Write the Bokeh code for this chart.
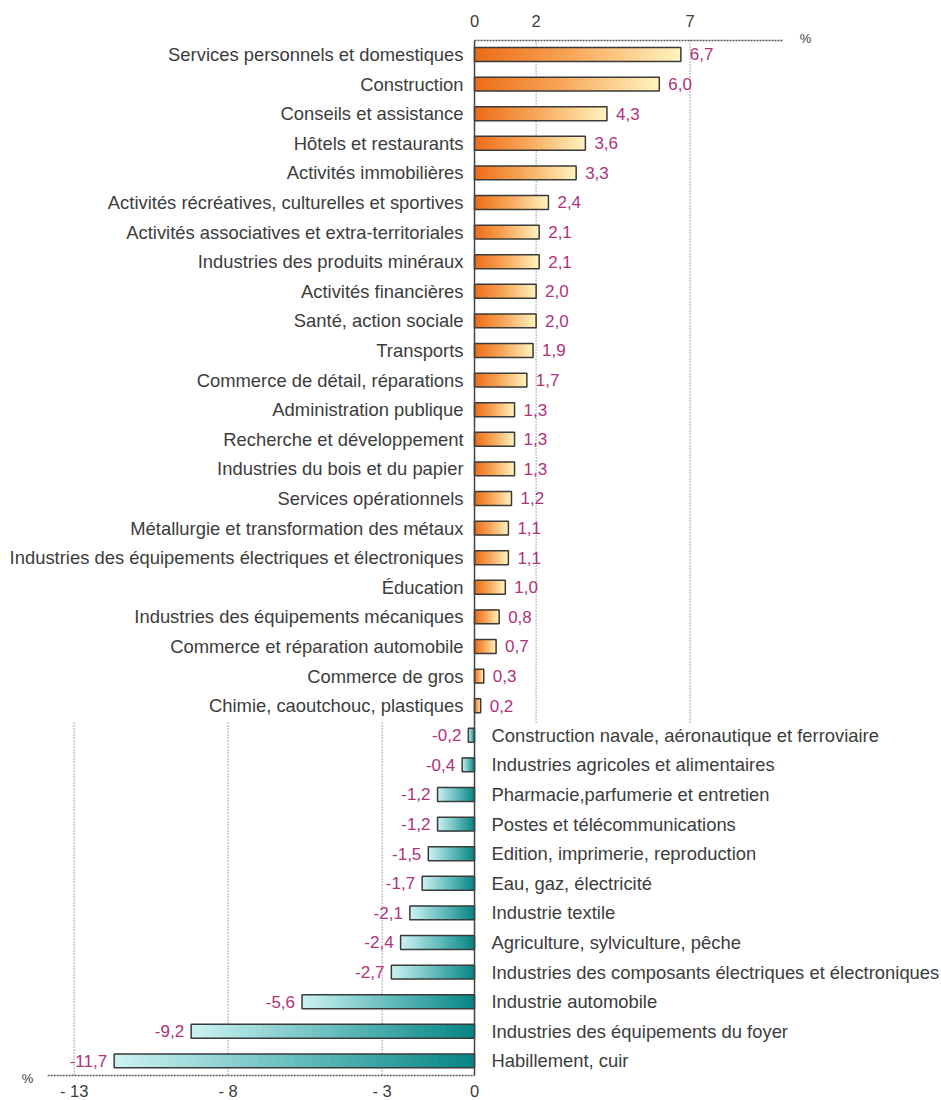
from bokeh.plotting import figure
from bokeh.models import Range1d
from bokeh.core.properties import value
from bokeh.embed import file_html
from bokeh.resources import INLINE

pos_cats = [
    "Services personnels et domestiques", "Construction", "Conseils et assistance",
    "Hôtels et restaurants", "Activités immobilières",
    "Activités récréatives, culturelles et sportives",
    "Activités associatives et extra-territoriales", "Industries des produits minéraux",
    "Activités financières", "Santé, action sociale", "Transports",
    "Commerce de détail, réparations", "Administration publique",
    "Recherche et développement", "Industries du bois et du papier",
    "Services opérationnels", "Métallurgie et transformation des métaux",
    "Industries des équipements électriques et électroniques", "Éducation",
    "Industries des équipements mécaniques", "Commerce et réparation automobile",
    "Commerce de gros", "Chimie, caoutchouc, plastiques",
]
pos_vals = [6.7, 6.0, 4.3, 3.6, 3.3, 2.4, 2.1, 2.1, 2.0, 2.0, 1.9, 1.7, 1.3, 1.3, 1.3,
            1.2, 1.1, 1.1, 1.0, 0.8, 0.7, 0.3, 0.2]

neg_cats = [
    "Construction navale, aéronautique et ferroviaire", "Industries agricoles et alimentaires",
    "Pharmacie,parfumerie et entretien", "Postes et télécommunications",
    "Edition, imprimerie, reproduction", "Eau, gaz, électricité", "Industrie textile",
    "Agriculture, sylviculture, pêche",
    "Industries des composants électriques et électroniques", "Industrie automobile",
    "Industries des équipements du foyer", "Habillement, cuir",
]
neg_vals = [-0.2, -0.4, -1.2, -1.2, -1.5, -1.7, -2.1, -2.4, -2.7, -5.6, -9.2, -11.7]

top_ticks = [0, 2, 7]
top_tick_labels = ["0", "2", "7"]
bottom_ticks = [-13, -8, -3, 0]
bottom_tick_labels = ["- 13", "- 8", "- 3", "0"]

FONT = value("Liberation Sans")
TXT = "#3c3c3c"
VALC = "#b0327a"


def hex2rgb(h):
    h = h.lstrip("#")
    return tuple(int(h[i:i + 2], 16) for i in (0, 2, 4))


def interp(stops, t):
    for (p0, c0), (p1, c1) in zip(stops[:-1], stops[1:]):
        if p0 <= t <= p1:
            f = (t - p0) / (p1 - p0) if p1 > p0 else 0
            a, b = hex2rgb(c0), hex2rgb(c1)
            return "#%02x%02x%02x" % tuple(int(round(a[i] + (b[i] - a[i]) * f)) for i in range(3))
    return stops[-1][1]


pos_stops = [(0, "#ec6c18"), (0.45, "#f7a455"), (1, "#fff4c0")]
neg_stops = [(0, "#078585"), (0.45, "#5db8b8"), (1, "#cdf2f2")]

p = figure(width=941, height=1100,
           x_range=Range1d(-15.390, 15.162),
           y_range=Range1d(35.338, -1.824),
           output_backend="svg", toolbar_location=None,
           min_border=0, min_border_left=0, min_border_right=0,
           min_border_top=0, min_border_bottom=0)
p.axis.visible = False
p.grid.visible = False
p.outline_line_color = None
p.background_fill_color = "white"
p.border_fill_color = "white"

n_pos = len(pos_vals)
pos_y = list(range(n_pos))
neg_y = [n_pos + i for i in range(len(neg_vals))]

BAR_H = 0.47
N = 40

ys, ls, rs, cs = [], [], [], []
for y, v in zip(pos_y, pos_vals):
    for k in range(N):
        ys.append(y)
        ls.append(v * k / N)
        rs.append(v)
        cs.append(interp(pos_stops, (k + 0.5) / N))
for y, v in zip(neg_y, neg_vals):
    for k in range(N):
        ys.append(y)
        rs.append(v * k / N)
        ls.append(v)
        cs.append(interp(neg_stops, (k + 0.5) / N))

GRID_TOP = -0.473
SPLIT = 22.57
BOTTOM = 34.49
p.segment(x0=[2, 7], x1=[2, 7], y0=[GRID_TOP] * 2, y1=[SPLIT] * 2,
          line_color="#555555", line_width=1, line_dash="1 2")
p.segment(x0=[-13, -8, -3], x1=[-13, -8, -3], y0=[SPLIT] * 3, y1=[BOTTOM] * 3,
          line_color="#555555", line_width=1, line_dash="1 2")

p.hbar(y=ys, left=ls, right=rs, height=BAR_H, fill_color=cs, line_color=None)

p.hbar(y=pos_y, left=0, right=pos_vals, height=BAR_H, fill_alpha=0,
       line_color="#3a3a3a", line_width=1.5)
p.hbar(y=neg_y, left=neg_vals, right=0, height=BAR_H, fill_alpha=0,
       line_color="#3a3a3a", line_width=1.5)

p.segment(x0=[0], x1=[10.03], y0=[GRID_TOP], y1=[GRID_TOP], line_color="#555555",
          line_width=1.5, line_dash="2 1")
p.segment(x0=[-13.86], x1=[0], y0=[BOTTOM], y1=[BOTTOM], line_color="#555555",
          line_width=1.5, line_dash="2 1")
p.segment(x0=[0], x1=[0], y0=[GRID_TOP], y1=[BOTTOM], line_color="#444444",
          line_width=1.5)

p.text(x=[0] * n_pos, y=pos_y, text=pos_cats, x_offset=-11, text_align="right",
       text_baseline="middle", text_font=FONT, text_font_size="18.4px", text_color=TXT)
p.text(x=[0] * len(neg_y), y=neg_y, text=neg_cats, x_offset=17, text_align="left",
       text_baseline="middle", text_font=FONT, text_font_size="18.4px", text_color=TXT)

fmt = lambda v: ("%.1f" % v).replace(".", ",")
p.text(x=pos_vals, y=pos_y, text=[fmt(v) for v in pos_vals], x_offset=9,
       text_align="left", text_baseline="middle", text_font=FONT,
       text_font_size="17px", text_color=VALC)
p.text(x=neg_vals, y=neg_y, text=[fmt(v) for v in neg_vals], x_offset=-7,
       text_align="right", text_baseline="middle", text_font=FONT,
       text_font_size="17px", text_color=VALC)

p.text(x=top_ticks, y=[-1.115] * len(top_ticks), text=top_tick_labels, text_align="center",
       text_baseline="middle", text_font=FONT, text_font_size="16.5px", text_color=TXT)
p.text(x=bottom_ticks, y=[35.03] * len(bottom_ticks), text=bottom_tick_labels,
       text_align="center", text_baseline="middle", text_font=FONT,
       text_font_size="16.5px", text_color=TXT)
p.text(x=[10.75, -14.51], y=[-0.54, 34.6], text=["%", "%"], text_align="center",
       text_baseline="middle", text_font=FONT, text_font_size="13px", text_color=TXT)

open("out.html", "w").write(file_html(p, INLINE))
